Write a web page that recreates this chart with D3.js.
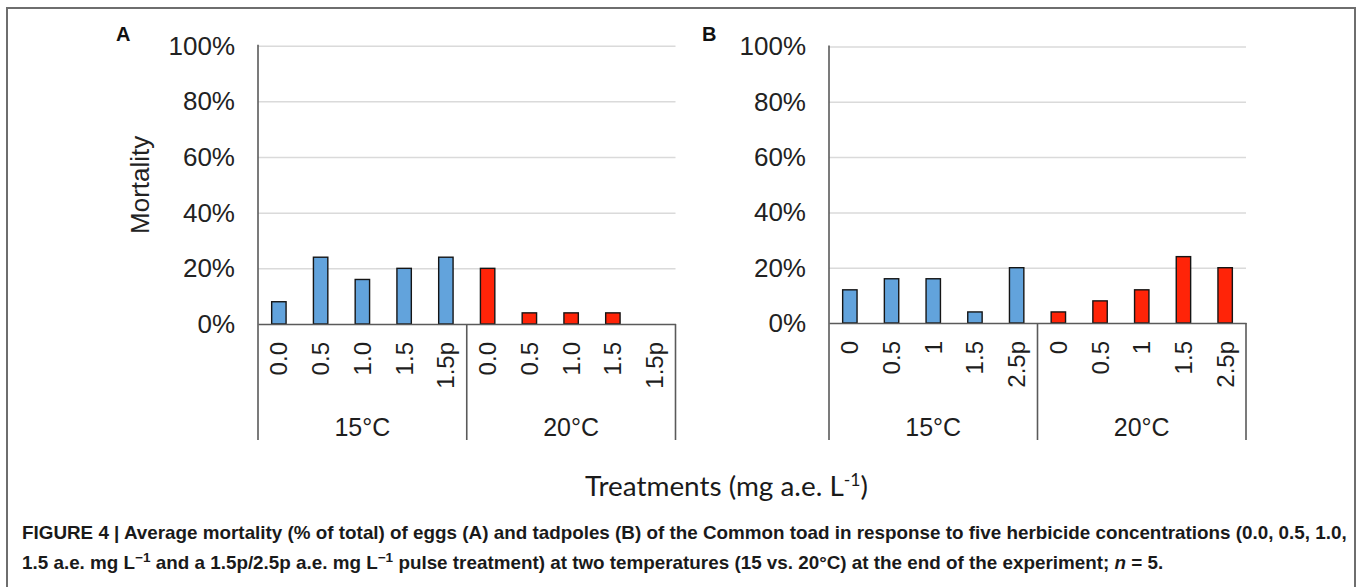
<!DOCTYPE html>
<html><head><meta charset="utf-8">
<script src="https://cdn.jsdelivr.net/npm/d3@7/dist/d3.min.js"></script>
<style>
html,body{margin:0;padding:0;background:#fff;}
svg{display:block;}
</style></head>
<body>
<svg id="chart" width="1357" height="587"></svg>
<script>
// ---- data ----
const temperatures = ["15°C", "20°C"];
const categoriesA = ["0.0", "0.5", "1.0", "1.5", "1.5p"];
const categoriesB = ["0", "0.5", "1", "1.5", "2.5p"];
const eggs15 = [8, 24, 16, 20, 24];
const eggs20 = [20, 4, 4, 4, 0];
const tadpoles15 = [12, 16, 16, 4, 20];
const tadpoles20 = [4, 8, 12, 24, 20];
const yTicks = [0, 20, 40, 60, 80, 100];
const panelLetters = ["A", "B"];
const yTitle = "Mortality";
const captionLine1 = "FIGURE 4 | Average mortality (% of total) of eggs (A) and tadpoles (B) of the Common toad in response to five herbicide concentrations (0.0, 0.5, 1.0,";

const svg = d3.select("#chart");
const colors = {"15°C": "#62a3dc", "20°C": "#ff2408"};
const AX = "#5a5a5a";

// frame
svg.append("path").attr("d", "M7,587 L7,8 L1355,8 L1355,587")
  .attr("fill", "none").attr("stroke", "#6e6e6e").attr("stroke-width", 2);

function panel(opts) {
  const {x0, x1, yTop, yBot, cats, s15, s20, letter, showTitle, letterX} = opts;
  const g = svg.append("g");
  const rows = [];
  temperatures.forEach((t, ti) => {
    cats.forEach((c, ci) => rows.push({key: t + "|" + c, temp: t, cat: c, v: (ti === 0 ? s15 : s20)[ci]}));
  });
  const x = d3.scaleBand().domain(rows.map(d => d.key)).range([x0, x1])
    .paddingInner(0.655).paddingOuter(0.3275);
  const y = d3.scaleLinear().domain([0, 100]).range([yBot, yTop]);

  // gridlines
  g.append("g").attr("transform", `translate(${x0},0)`)
    .call(d3.axisLeft(y).tickValues(yTicks.filter(v => v > 0)).tickSize(-(x1 - x0)).tickFormat(""))
    .call(s => s.select(".domain").remove())
    .call(s => s.selectAll("line").attr("stroke", "#dadada").attr("stroke-width", 1.5));

  // y tick labels
  g.append("g").attr("transform", `translate(${x0},0)`)
    .call(d3.axisLeft(y).tickValues(yTicks).tickSize(0).tickPadding(23).tickFormat(d => d + "%"))
    .call(s => s.select(".domain").remove())
    .call(s => s.selectAll("text").attr("font-family", "Liberation Sans, Arial, sans-serif")
      .attr("font-size", 26).attr("fill", "#222"));

  // bars
  g.selectAll("rect.bar").data(rows).join("rect").attr("class", "bar")
    .attr("x", d => x(d.key)).attr("width", x.bandwidth())
    .attr("y", d => y(d.v)).attr("height", d => y(0) - y(d.v))
    .attr("fill", d => colors[d.temp]).attr("stroke", "#151515").attr("stroke-width", 1.4);

  // x axis: baseline + rotated category labels
  g.append("g").attr("transform", `translate(0,${yBot})`)
    .call(d3.axisBottom(x).tickSize(0).tickPadding(0).tickFormat(k => k.split("|")[1]))
    .call(s => s.select(".domain").attr("stroke", AX).attr("stroke-width", 1.6))
    .call(s => s.selectAll("text")
      .attr("font-family", "Liberation Sans, Arial, sans-serif").attr("font-size", 24).attr("fill", "#1e1e1e")
      .attr("text-anchor", "end").attr("dy", null).attr("y", null)
      .attr("dominant-baseline", "central")
      .attr("transform", "translate(0,18) rotate(-90)"));

  // vertical axis line and group dividers
  const groupEdges = [x0, (x0 + x1) / 2, x1];
  g.selectAll("line.div").data(groupEdges).join("line").attr("class", "div")
    .attr("x1", d => d).attr("x2", d => d)
    .attr("y1", (d, i) => i === 0 ? yTop - 1 : yBot).attr("y2", 440)
    .attr("stroke", AX).attr("stroke-width", 1.6);

  // group labels
  const gx = d3.scaleBand().domain(temperatures).range([x0, x1]);
  g.selectAll("text.grp").data(temperatures).join("text").attr("class", "grp")
    .attr("x", d => gx(d) + gx.bandwidth() / 2).attr("y", 436)
    .attr("text-anchor", "middle").attr("font-family", "Liberation Sans, Arial, sans-serif")
    .attr("font-size", 25).attr("fill", "#1e1e1e").text(d => d);

  // panel letter
  g.append("text").attr("x", letterX).attr("y", 41)
    .attr("font-family", "Liberation Sans, Arial, sans-serif").attr("font-weight", "bold")
    .attr("font-size", 20).attr("fill", "#111").text(letter);

  if (showTitle) {
    g.append("text").attr("transform", `translate(149,${(yTop + yBot) / 2}) rotate(-90)`)
      .attr("text-anchor", "middle").attr("font-family", "Liberation Sans, Arial, sans-serif")
      .attr("font-size", 26).attr("fill", "#222").text(yTitle);
  }
}

panel({x0: 258, x1: 675.5, yTop: 45.7, yBot: 324, cats: categoriesA, s15: eggs15, s20: eggs20,
  letter: panelLetters[0], showTitle: true, letterX: 116});
panel({x0: 829, x1: 1246, yTop: 46.5, yBot: 323, cats: categoriesB, s15: tadpoles15, s20: tadpoles20,
  letter: panelLetters[1], showTitle: false, letterX: 702});

// x title
const xt = svg.append("text").attr("x", 726.5).attr("y", 496).attr("text-anchor", "middle")
  .attr("font-family", "Lato, 'Open Sans', sans-serif").attr("font-size", 27).attr("fill", "#1a1a1a");
xt.append("tspan").text("Treatments (mg a.e. L");
xt.append("tspan").attr("font-size", 17).attr("dy", -10).text("-1");
xt.append("tspan").attr("dy", 10).text(")");
{
  const w = xt.node().getComputedTextLength();
  const target = 283;
  const f = 27 * target / w;
  xt.attr("font-size", f);
  xt.selectAll("tspan").filter((d, i) => i === 1).attr("font-size", f * 0.63);
}

// caption (condensed bold: natural glyphs scaled horizontally to fit the reference width)
const capFont = "Liberation Sans, Arial, sans-serif";
const capSize = 17.5;
const c1 = svg.append("text").attr("font-family", capFont)
  .attr("font-weight", "bold").attr("font-size", capSize).attr("fill", "#1a1a1a").text(captionLine1);
const k = 1326 / c1.node().getComputedTextLength();
c1.attr("transform", `translate(22,539) scale(${k},1)`);
const c2 = svg.append("text").attr("font-family", capFont)
  .attr("font-weight", "bold").attr("font-size", capSize).attr("fill", "#1a1a1a")
  .attr("transform", `translate(22,569) scale(${k},1)`);
const sup = (t) => c2.append("tspan").attr("font-size", capSize * 0.72).attr("dy", -7.5).text(t);
const norm = (t) => c2.append("tspan").attr("dy", 7.5).text(t);
c2.append("tspan").text("1.5 a.e. mg L");
sup("\u22121");
norm(" and a 1.5p/2.5p a.e. mg L");
sup("\u22121");
norm(" pulse treatment) at two temperatures (15 vs. 20°C) at the end of the experiment; ");
c2.append("tspan").attr("font-style", "italic").text("n");
c2.append("tspan").text(" = 5.");
</script>
</body></html>
